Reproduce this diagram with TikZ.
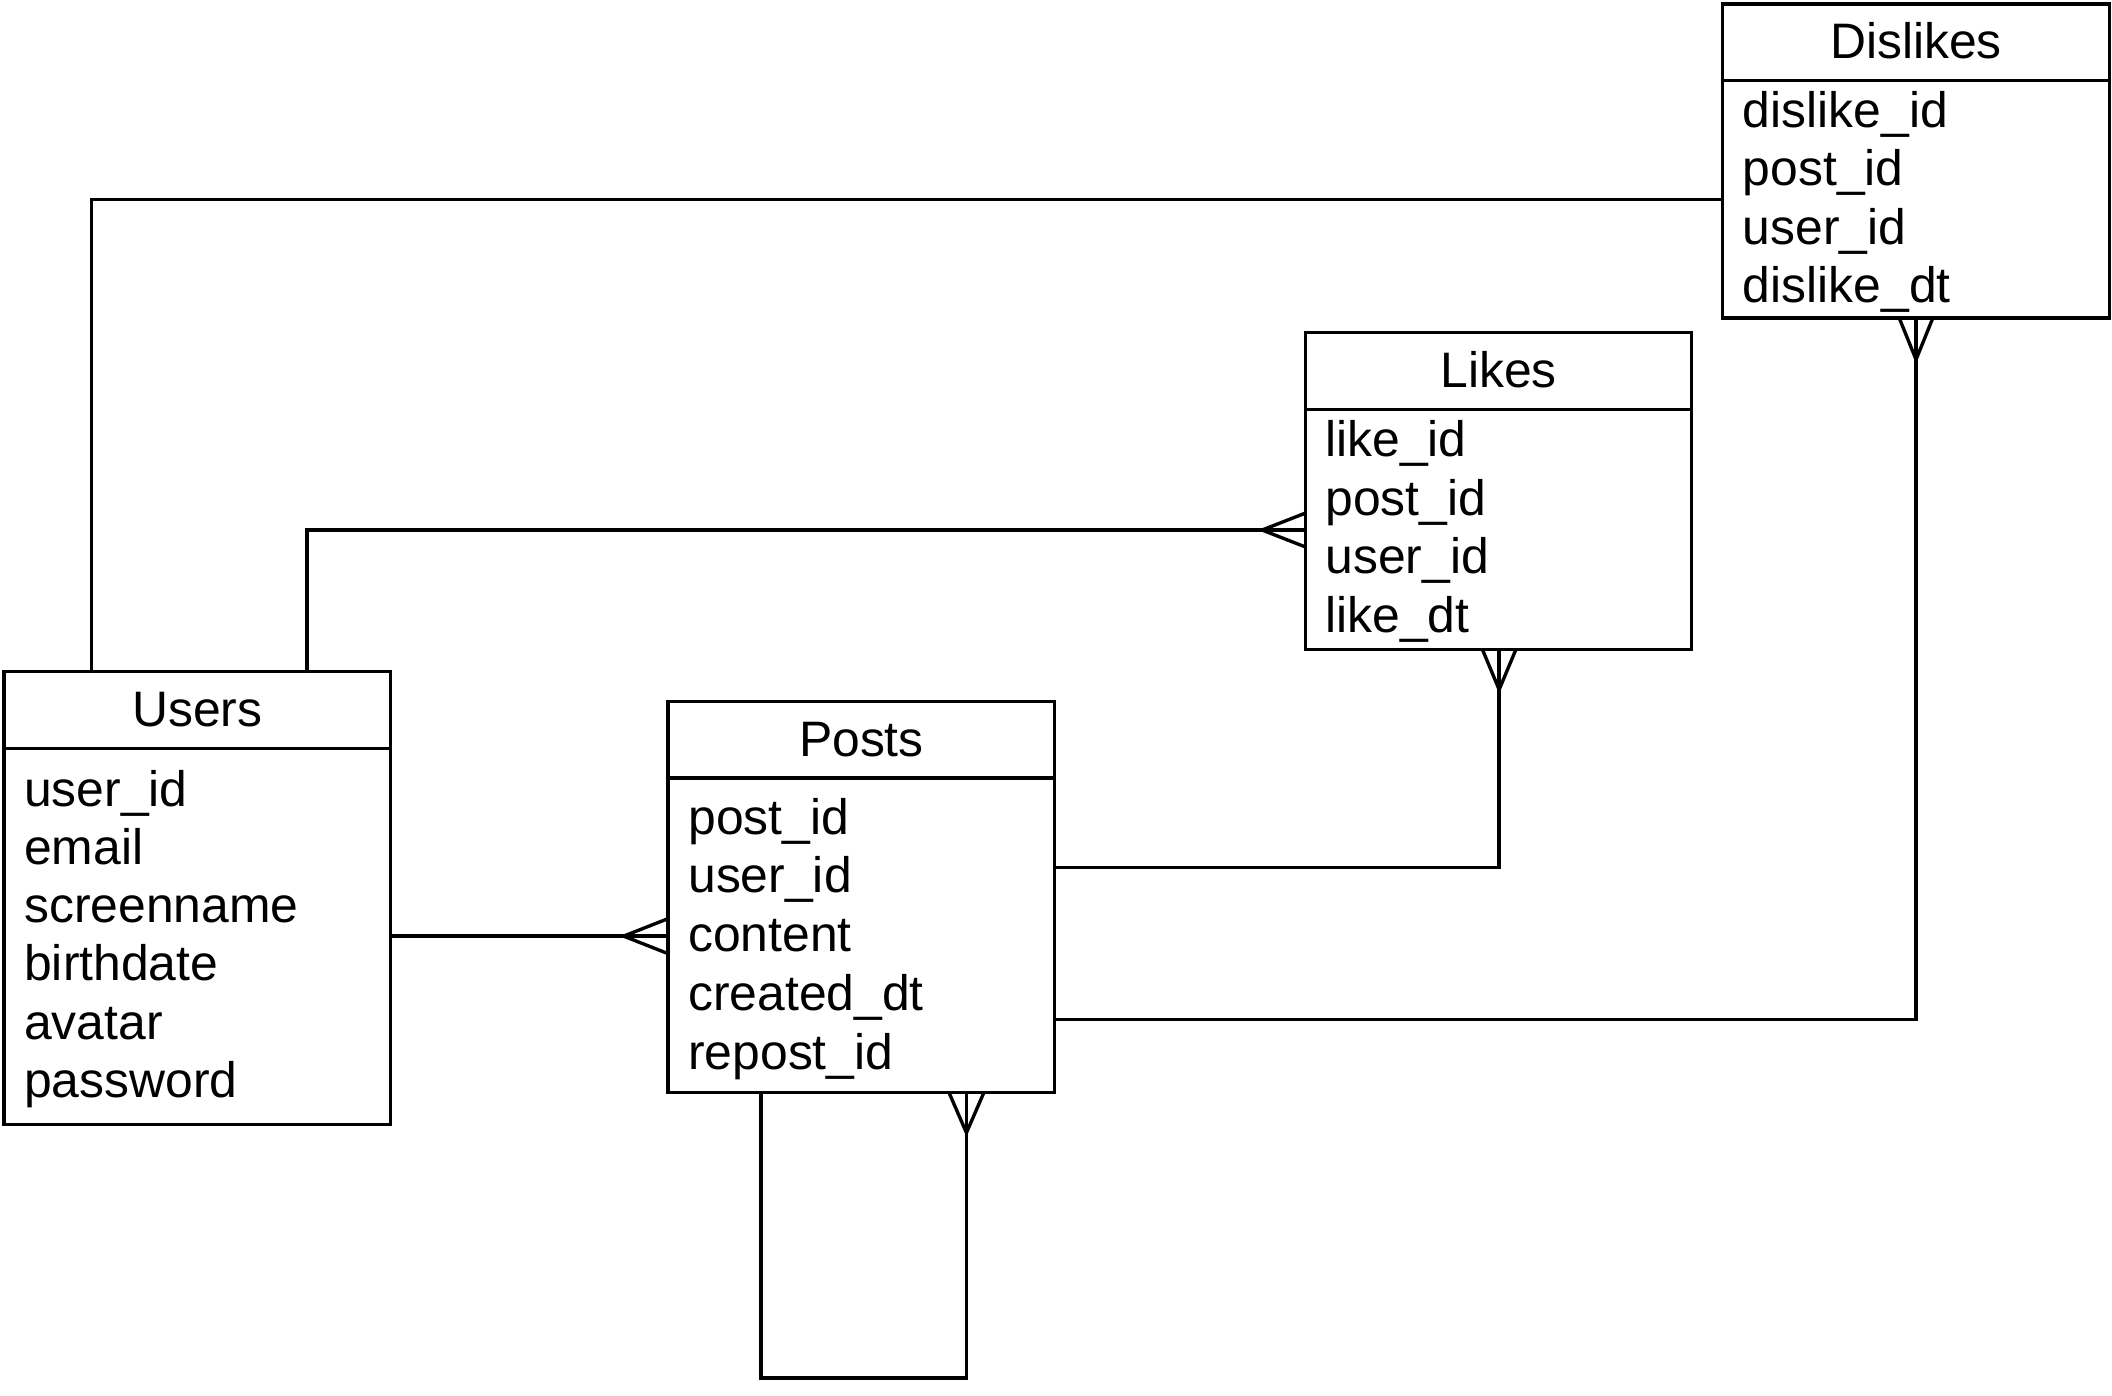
\documentclass[tikz,border=0pt]{standalone}
\usepackage{fontspec}
\setmainfont{Liberation Sans}
\usetikzlibrary{calc}
\tikzset{
  tbl/.style={draw, line width=2.5pt, inner sep=0pt, outer sep=0pt, anchor=north west, minimum width=287pt},
  conn/.style={line width=2.5pt},
  ttl/.style={anchor=base, inner sep=0pt, font=\fontsize{37}{43.5}\selectfont},
  fld/.style={anchor=base west, inner sep=0pt, font=\fontsize{37}{43.5}\selectfont},
}
\newcommand{\crowfoot}[3]{%
  \draw[conn] ($(#1)+(#2)$) -- ($(#1)+(#3)$) ($(#1)+(#2)$) -- ($(#1)-(#3)$);}
\begin{document}
\begin{tikzpicture}[x=1pt,y=1pt]
\useasboundingbox (0,0) rectangle (1568,-1035.7);

% Users
\node[tbl, minimum height=336.4pt] (users) at (3,-498.6) {};
\draw[conn] ($(users.north west)+(0,-57)$) -- ($(users.north east)+(0,-57)$);
\node[ttl] (usersT) at ($(users.north)+(0,-40.5)$) {Users};
\node[fld] (u1) at ($(users.north west)+(14.8,-100.4)$) {user\_id};
\node[fld] (u2) at ($(users.north west)+(14.8,-143.5)$) {email};
\node[fld] (u3) at ($(users.north west)+(14.8,-186.6)$) {screenname};
\node[fld] (u4) at ($(users.north west)+(14.8,-229.7)$) {birthdate};
\node[fld] (u5) at ($(users.north west)+(14.8,-272.8)$) {avatar};
\node[fld] (u6) at ($(users.north west)+(14.8,-315.9)$) {password};

% Posts
\node[tbl, minimum height=290pt] (posts) at (496,-521) {};
\draw[conn] ($(posts.north west)+(0,-56.5)$) -- ($(posts.north east)+(0,-56.5)$);
\node[ttl] (postsT) at ($(posts.north)+(0,-40.7)$) {Posts};
\node[fld] (p1) at ($(posts.north west)+(14.8,-98.3)$) {post\_id};
\node[fld] (p2) at ($(posts.north west)+(14.8,-141.95)$) {user\_id};
\node[fld] (p3) at ($(posts.north west)+(14.8,-185.6)$) {content};
\node[fld] (p4) at ($(posts.north west)+(14.8,-229.25)$) {created\_dt};
\node[fld] (p5) at ($(posts.north west)+(14.8,-272.9)$) {repost\_id};

% Likes
\node[tbl, minimum height=235pt] (likes) at (969,-247) {};
\draw[conn] ($(likes.north west)+(0,-57)$) -- ($(likes.north east)+(0,-57)$);
\node[ttl] (likesT) at ($(likes.north)+(0,-41)$) {Likes};
\node[fld] (l1) at ($(likes.north west)+(14.8,-92)$) {like\_id};
\node[fld] (l2) at ($(likes.north west)+(14.8,-135.5)$) {post\_id};
\node[fld] (l3) at ($(likes.north west)+(14.8,-179)$) {user\_id};
\node[fld] (l4) at ($(likes.north west)+(14.8,-222.5)$) {like\_dt};

% Dislikes
\node[tbl, minimum height=233pt] (dislikes) at (1279,-3) {};
\draw[conn] ($(dislikes.north west)+(0,-57)$) -- ($(dislikes.north east)+(0,-57)$);
\node[ttl] (dislikesT) at ($(dislikes.north)+(0,-40.4)$) {Dislikes};
\node[fld] (d1) at ($(dislikes.north west)+(14.8,-91.7)$) {dislike\_id};
\node[fld] (d2) at ($(dislikes.north west)+(14.8,-135)$) {post\_id};
\node[fld] (d3) at ($(dislikes.north west)+(14.8,-178.4)$) {user\_id};
\node[fld] (d4) at ($(dislikes.north west)+(14.8,-221.8)$) {dislike\_dt};

% Connector endpoints
\coordinate (a1) at ($(users.north west)+(65,0)$);
\coordinate (a2) at ($(dislikes.north west)+(0,-145)$);
\coordinate (b1) at ($(users.north west)+(225,0)$);
\coordinate (b2) at ($(likes.north west)+(0,-146.5)$);
\coordinate (c1) at ($(users.north east)+(0,-196.4)$);
\coordinate (c2) at ($(posts.north west)+(0,-174)$);
\coordinate (e1) at ($(posts.north east)+(0,-123)$);
\coordinate (e2) at ($(likes.south west)+(144,0)$);
\coordinate (f1) at ($(posts.north east)+(0,-236)$);
\coordinate (f2) at ($(dislikes.south west)+(143.5,0)$);
\coordinate (g1) at ($(posts.south west)+(69,0)$);
\coordinate (g2) at ($(posts.south west)+(221.5,0)$);

% Users - Dislikes
\draw[conn] (a1) |- (a2);
% Users - Likes
\draw[conn] (b1) |- (b2);
\crowfoot{b2}{-32,0}{0,12.5}
% Users - Posts
\draw[conn] (c1) -- (c2);
\crowfoot{c2}{-33,0}{0,13}
% Posts - Likes
\draw[conn] (e1) -| (e2);
\crowfoot{e2}{0,-30}{12.5,0}
% Posts - Dislikes
\draw[conn] (f1) -| (f2);
\crowfoot{f2}{0,-31}{12.5,0}
% Posts self-loop
\draw[conn] (g1) -- ++(0,-212) -| (g2);
\crowfoot{g2}{0,-30}{13,0}
\end{tikzpicture}
\end{document}
